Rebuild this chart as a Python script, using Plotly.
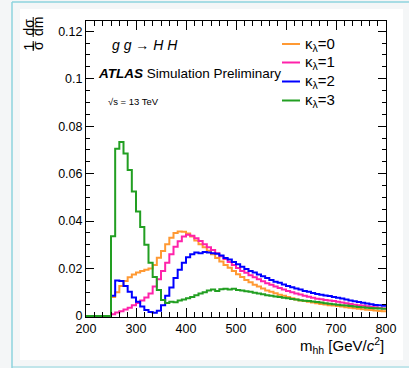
import numpy as np
import plotly.graph_objects as go

# ---------------- data ----------------
bin_lo = 200.0
bin_width = 25.0 / 3.0
threshold = 250.0  # first non-empty bin edge (2 m_H)

kl0 = [0.0080, 0.0100, 0.0127, 0.0148, 0.0163, 0.0175, 0.0183, 0.0190, 0.0195, 0.0200,
       0.0215, 0.0246, 0.0274, 0.0302, 0.0330, 0.0350, 0.0356, 0.0355, 0.0348, 0.0335,
       0.0318, 0.0303, 0.0290, 0.0275, 0.0260, 0.0245, 0.0230, 0.0215, 0.0203, 0.0190,
       0.0176, 0.0165, 0.0152, 0.0142, 0.0132, 0.0124, 0.0116, 0.0108, 0.0102, 0.0096,
       0.0090, 0.0085, 0.0080, 0.0075, 0.0070, 0.0066, 0.0063, 0.0060, 0.0057, 0.0054,
       0.0051, 0.0049, 0.0046, 0.0044, 0.0042, 0.0040, 0.0037, 0.0035, 0.0033, 0.0031,
       0.0029, 0.0027, 0.0025, 0.0023, 0.0021, 0.0020]
kl1 = [0.0008, 0.0015, 0.0020, 0.0028, 0.0035, 0.0045, 0.0055, 0.0065, 0.0078, 0.0095,
       0.0125, 0.0155, 0.0190, 0.0225, 0.0260, 0.0292, 0.0315, 0.0335, 0.0342, 0.0338,
       0.0328, 0.0316, 0.0302, 0.0290, 0.0278, 0.0265, 0.0252, 0.0240, 0.0228, 0.0215,
       0.0202, 0.0190, 0.0182, 0.0172, 0.0163, 0.0155, 0.0147, 0.0138, 0.0132, 0.0125,
       0.0118, 0.0112, 0.0106, 0.0100, 0.0095, 0.0091, 0.0085, 0.0081, 0.0077, 0.0073,
       0.0071, 0.0068, 0.0066, 0.0063, 0.0060, 0.0057, 0.0054, 0.0051, 0.0048, 0.0046,
       0.0044, 0.0041, 0.0039, 0.0037, 0.0034, 0.0032]
kl2 = [0.0085, 0.0150, 0.0148, 0.0127, 0.0102, 0.0078, 0.0060, 0.0040, 0.0025, 0.0017,
       0.0014, 0.0022, 0.0045, 0.0085, 0.0120, 0.0160, 0.0195, 0.0225, 0.0248, 0.0260,
       0.0268, 0.0265, 0.0270, 0.0268, 0.0265, 0.0262, 0.0255, 0.0245, 0.0238, 0.0228,
       0.0218, 0.0208, 0.0198, 0.0190, 0.0183, 0.0175, 0.0168, 0.0160, 0.0152, 0.0145,
       0.0140, 0.0133, 0.0127, 0.0121, 0.0116, 0.0112, 0.0106, 0.0102, 0.0097, 0.0093,
       0.0090, 0.0087, 0.0084, 0.0080, 0.0077, 0.0074, 0.0070, 0.0066, 0.0062, 0.0059,
       0.0056, 0.0053, 0.0050, 0.0047, 0.0045, 0.0043]
kl3 = [0.0336, 0.0705, 0.0733, 0.0685, 0.0615, 0.0525, 0.0440, 0.0375, 0.0300, 0.0225,
       0.0165, 0.0110, 0.0068, 0.0055, 0.0060, 0.0058, 0.0065, 0.0070, 0.0075, 0.0080,
       0.0088, 0.0095, 0.0100, 0.0108, 0.0112, 0.0106, 0.0113, 0.0115, 0.0112, 0.0115,
       0.0110, 0.0108, 0.0105, 0.0102, 0.0098, 0.0095, 0.0092, 0.0088, 0.0085, 0.0082,
       0.0080, 0.0077, 0.0075, 0.0072, 0.0070, 0.0067, 0.0064, 0.0063, 0.0061, 0.0059,
       0.0057, 0.0054, 0.0052, 0.0050, 0.0048, 0.0046, 0.0044, 0.0042, 0.0040, 0.0038,
       0.0037, 0.0035, 0.0034, 0.0033, 0.0032, 0.0031]

series_names = ["κ<sub>λ</sub>=0", "κ<sub>λ</sub>=1", "κ<sub>λ</sub>=2", "κ<sub>λ</sub>=3"]
series_vals = [kl0, kl1, kl2, kl3]
series_colors = ["#ff9933", "#ff22aa", "#0000ff", "#229f22"]

# ---------------- figure ----------------
W, H = 409, 368
L, R, T, B = 86, 23, 21, 51
PW, PH = W - L - R, H - T - B
FONT = "Liberation Sans, Arial, Helvetica, sans-serif"


def px(xp):
    return (xp - L) / PW


def py(yp):
    return (H - B - yp) / PH


n_empty = int(round((threshold - bin_lo) / bin_width))
fig = go.Figure()
for name, vals, col in zip(series_names, series_vals, series_colors):
    full = [0.0] * n_empty + list(vals)
    edges = bin_lo + bin_width * np.arange(len(full) + 1)
    ys = full + [full[-1]]
    fig.add_trace(go.Scatter(x=edges, y=ys, mode="lines", line=dict(color=col, width=2, shape="hv"),
                             name=name, showlegend=False, hoverinfo="skip"))

shapes = []
annotations = []

# page frame
shapes.append(dict(type="rect", xref="paper", yref="paper", x0=px(20), x1=px(403), y0=py(9), y1=py(360),
                   fillcolor="white", line=dict(width=0), layer="below"))
CY = "#8ed3de"
shapes.append(dict(type="line", xref="paper", yref="paper", x0=px(12), x1=px(12), y0=py(2), y1=py(368),
                   line=dict(color=CY, width=1.5)))
shapes.append(dict(type="line", xref="paper", yref="paper", x0=px(12), x1=px(409), y0=py(2), y1=py(2),
                   line=dict(color=CY, width=1.5)))
shapes.append(dict(type="line", xref="paper", yref="paper", x0=px(12), x1=px(409), y0=py(367), y1=py(367),
                   line=dict(color=CY, width=1.2)))

# legend (drawn manually)
leg_y = [44, 62.5, 81.5, 100.5]
for name, col, yy in zip(series_names, series_colors, leg_y):
    shapes.append(dict(type="line", xref="paper", yref="paper", x0=px(282), x1=px(300), y0=py(yy), y1=py(yy),
                       line=dict(color=col, width=2)))
    annotations.append(dict(x=px(303), y=py(yy), xref="paper", yref="paper", text=name, showarrow=False,
                            xanchor="left", yanchor="middle", font=dict(family=FONT, size=15, color="black")))

# labels
annotations.append(dict(x=px(110), y=py(45), xref="paper", yref="paper",
                        text="<i>g g</i> → <i>H H</i>", showarrow=False, xanchor="left", yanchor="middle",
                        font=dict(family=FONT, size=14, color="black")))
annotations.append(dict(x=px(96), y=py(73), xref="paper", yref="paper",
                        text="<b><i>ATLAS</i></b> Simulation Preliminary", showarrow=False,
                        xanchor="left", yanchor="middle", font=dict(family=FONT, size=13.5, color="black")))
annotations.append(dict(x=px(106), y=py(101), xref="paper", yref="paper",
                        text="√s = 13 TeV", showarrow=False, xanchor="left", yanchor="middle",
                        font=dict(family=FONT, size=9.5, color="black")))
annotations.append(dict(x=px(386), y=py(345), xref="paper", yref="paper",
                        text="m<sub>hh</sub> [GeV/<i>c</i><sup>2</sup>]", showarrow=False,
                        xanchor="right", yanchor="middle", font=dict(family=FONT, size=15, color="black")))

# y-axis title: (1/σ) (dσ/dm), rotated
for txt, xx, yy in [("dσ", 28.5, 27), ("dm", 38, 27), ("1", 28.5, 46), ("σ", 38, 46)]:
    annotations.append(dict(x=px(xx), y=py(yy), xref="paper", yref="paper", text=txt, showarrow=False,
                            textangle=-90, xanchor="center", yanchor="middle",
                            font=dict(family=FONT, size=14, color="black")))
shapes.append(dict(type="line", xref="paper", yref="paper", x0=px(33.2), x1=px(33.2), y0=py(17), y1=py(37),
                   line=dict(color="black", width=1)))
shapes.append(dict(type="line", xref="paper", yref="paper", x0=px(33.2), x1=px(33.2), y0=py(41), y1=py(51),
                   line=dict(color="black", width=1)))

fig.update_layout(
    template="none",
    width=W, height=H,
    margin=dict(l=L, r=R, t=T, b=B, pad=0),
    paper_bgcolor="#f4f6f7",
    plot_bgcolor="white",
    shapes=shapes,
    annotations=annotations,
    font=dict(family=FONT, size=12.5, color="black"),
    xaxis=dict(range=[200, 800], tickmode="linear", tick0=200, dtick=100, ticks="inside", ticklen=9,
               tickwidth=1, tickcolor="black", showline=True, linecolor="black", linewidth=1, mirror="ticks",
               showgrid=False, zeroline=False, tickfont=dict(family=FONT, size=12.5),
               minor=dict(dtick=100 / 6, tick0=200, ticks="inside", ticklen=5, tickcolor="black",
                          showgrid=False)),
    yaxis=dict(range=[-0.0004, 0.1243], tickmode="linear", tick0=0, dtick=0.02, ticks="inside",
               ticklen=8, tickwidth=1, tickcolor="black", showline=True, linecolor="black", linewidth=1,
               mirror="ticks", showgrid=False, zeroline=False, tickfont=dict(family=FONT, size=12.5),
               minor=dict(dtick=0.005, tick0=0, ticks="inside", ticklen=4, tickcolor="black", showgrid=False)),
)

fig.write_html("out.html", config={"displayModeBar": False},
               post_script="document.body.style.margin='0';document.body.style.padding='0';")
